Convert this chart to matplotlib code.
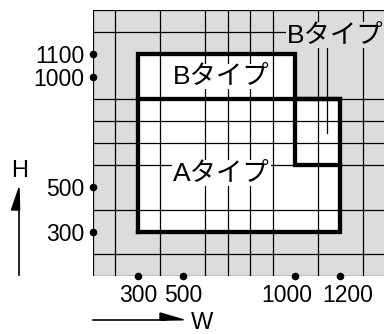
import numpy as np
import matplotlib
matplotlib.use("Agg")
import matplotlib.pyplot as plt
from matplotlib.patches import Polygon

plt.rcParams['font.family'] = ['Liberation Sans', 'Noto Sans CJK JP', 'DejaVu Sans']

# data
x_ticks = [300, 500, 1000, 1200]
y_ticks = [300, 500, 1000, 1100]
x_tick_labels = ["300", "500", "1000", "1200"]
y_tick_labels = ["300", "500", "1000", "1100"]
grid_x = list(range(100, 1500, 100))
grid_y = list(range(100, 1400, 100))
# outline of the usable region (W, H)
outline_w = [300, 1200, 1200, 1000, 1000, 300]
outline_h = [300, 300, 900, 900, 1100, 1100]
# inner dividing lines
divider_w = [300, 1200]
divider_h = [900, 900]
notch_w = [1000, 1000, 1200]
notch_h = [900, 600, 600]
labels = ["Bタイプ", "Aタイプ", "Bタイプ"]
label_w = [672, 672, 1178]
label_h = [1000, 565, 1188]
label_bg = ["white", "white", "#dcdcdc"]
leader_w = [1140, 1140]
leader_h = [1136, 745]

# horizontal nudges (pixels) of the W tick labels, as in the reference
x_label_nudge = [0, 0, -9, 7]

W, H = 384, 334
fig = plt.figure(figsize=(W / 100, H / 100), dpi=100)

left, right, top, bottom = 93, 385.3, 10, 276
ax = fig.add_axes([left / W, (H - bottom) / H, (right - left) / W, (bottom - top) / H])
ax.set_xlim(100, 1400)
ax.set_ylim(100, 1300)
ax.set_facecolor('#dcdcdc')

ax.set_xticks(grid_x, minor=True)
ax.set_yticks(grid_y, minor=True)
ax.grid(which='minor', color='black', lw=0.9, zorder=2)
ax.set_axisbelow(False)
ax.tick_params(which='minor', length=0)

ax.set_xticks(x_ticks, [])
ax.set_yticks(y_ticks, y_tick_labels)
ax.tick_params(which='major', length=0, labelsize=16.5, colors='black')
ax.tick_params(axis='y', pad=6)
for s in ax.spines.values():
    s.set_visible(False)

for xv, lab, dx in zip(x_ticks, x_tick_labels, x_label_nudge):
    ax.annotate(lab, xy=(xv, 0), xycoords=('data', 'axes fraction'),
                xytext=(dx, -20), textcoords='offset pixels',
                ha='center', va='center', fontsize=16.5)

poly = Polygon(np.column_stack([outline_w, outline_h]), closed=True,
               facecolor='white', edgecolor='none', zorder=1)
ax.add_patch(poly)
ax.plot(outline_w + [outline_w[0]], outline_h + [outline_h[0]], color='black', lw=3.1,
        solid_joinstyle='miter', zorder=5)
ax.plot(divider_w, divider_h, color='black', lw=3.1, zorder=5)
ax.plot(notch_w, notch_h, color='black', lw=3.1, solid_joinstyle='miter', zorder=5)
ax.plot(leader_w, leader_h, color='black', lw=0.9, zorder=4)

for t, xw, yh, bg in zip(labels, label_w, label_h, label_bg):
    ax.text(xw, yh, t, fontsize=19, ha='center', va='center', zorder=6,
            bbox=dict(facecolor=bg, edgecolor='none', pad=0.5))

ax.scatter(x_ticks, [100] * len(x_ticks), s=20, color='black', clip_on=False, zorder=7)
ax.scatter([100] * len(y_ticks), y_ticks, s=20, color='black', clip_on=False, zorder=7)

# overlay for axis arrows
ov = fig.add_axes([0, 0, 1, 1], zorder=-1)
ov.set_xlim(0, W)
ov.set_ylim(H, 0)
ov.axis('off')
ov.plot([19, 19], [275, 195], color='black', lw=1.2)
ov.add_patch(Polygon([(19, 188), (11.5, 210), (19.6, 210)], closed=True, color='black'))
ov.plot([93, 165], [319.5, 319.5], color='black', lw=1.2)
ov.add_patch(Polygon([(183.5, 319.8), (160, 313), (160, 320.2)], closed=True, color='black'))
ov.text(19.5, 171, "H", fontsize=17, ha='center', va='center')
ov.text(202, 323, "W", fontsize=17, ha='center', va='center')

fig.savefig("out.png", dpi=100)
